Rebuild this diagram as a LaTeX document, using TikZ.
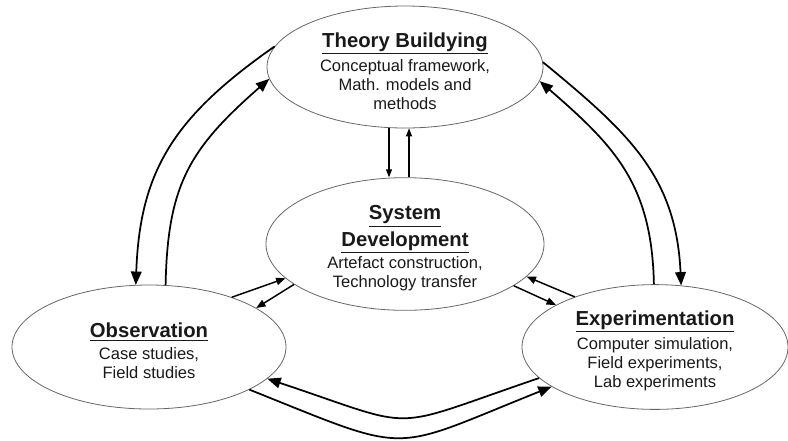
\documentclass[tikz,border=0pt]{standalone}
\usepackage{fontspec}
\setmainfont{Liberation Sans}
\usetikzlibrary{arrows.meta,shapes.geometric}
\newcommand\phead[1]{{\fontsize{15.2}{18}\selectfont\bfseries\underline{#1}}}
\newcommand\toppad{\rule{0pt}{17pt}}
\begin{document}
\begin{tikzpicture}[x=0.75pt,y=-0.75pt,
  phase/.style={ellipse, draw=black!60, line width=0.6pt, inner sep=0pt, align=center,
    text=black!90, font=\fontsize{12.4}{14.3}\selectfont},
  big/.style={line width=1.3pt, -{Triangle[length=10pt,width=8pt]}},
  mid/.style={line width=1.1pt, -{Triangle[length=7pt,width=5.5pt]}},
  small/.style={line width=0.8pt, -{Triangle[length=6pt,width=4.5pt]}},
]
\useasboundingbox (0,0) rectangle (788,440);
\node[phase, minimum width=207pt, minimum height=91.5pt] (T) at (405,67)
  {\toppad\phead{Theory Buildying}\\[3.7pt]Conceptual framework,\\Math. models and\\methods};
\node[phase, minimum width=208.5pt, minimum height=92.25pt] (S) at (405,244)
  {\toppad\phead{System}\\[3pt]\phead{Development}\\[2pt]Artefact construction,\\Technology transfer};
\node[phase, minimum width=205.5pt, minimum height=93pt] (O) at (149,347)
  {\toppad\phead{Observation}\\[2pt]Case studies,\\Field studies};
\node[phase, minimum width=199.5pt, minimum height=93pt] (E) at (655,347)
  {\toppad\phead{Experimentation}\\[3.7pt]Computer simulation,\\Field experiments,\\Lab experiments};
% Theory <-> Observation
\draw[big] (T.171.8) .. controls +(-100,70) and +(4,-115) .. (O.102.3);
\draw[big] (O.75.5) .. controls +(2,-100) and +(-80,70) .. (T.185.4);
% Theory <-> Experimentation
\draw[big] (T.2.9) .. controls +(85,70) and +(-5,-110) .. (E.67.1);
\draw[big] (E.91.8) .. controls +(-2,-100) and +(75,65) .. (T.-6.2);
% Theory <-> System
\draw[small] ([xshift=-12pt]T.south) -- ([xshift=-12pt]S.north);
\draw[small] ([xshift=3pt]S.north) -- ([xshift=3pt]T.south);
% Observation <-> System
\draw[mid] (O.31.2) -- (S.196);
\draw[mid] (S.200.8) -- (O.20.2);
% Experimentation <-> System
\draw[mid] (E.148) -- (S.-15.9);
\draw[mid] (S.-21.4) -- (E.157.6);
% Observation <-> Experimentation
\draw[big] (E.195.5) .. controls +(-156,53) and +(156,52) .. (O.-15.5);
\draw[big] (O.-23.5) .. controls +(165,66) and +(-165,66) .. (E.-159);
\end{tikzpicture}
\end{document}
